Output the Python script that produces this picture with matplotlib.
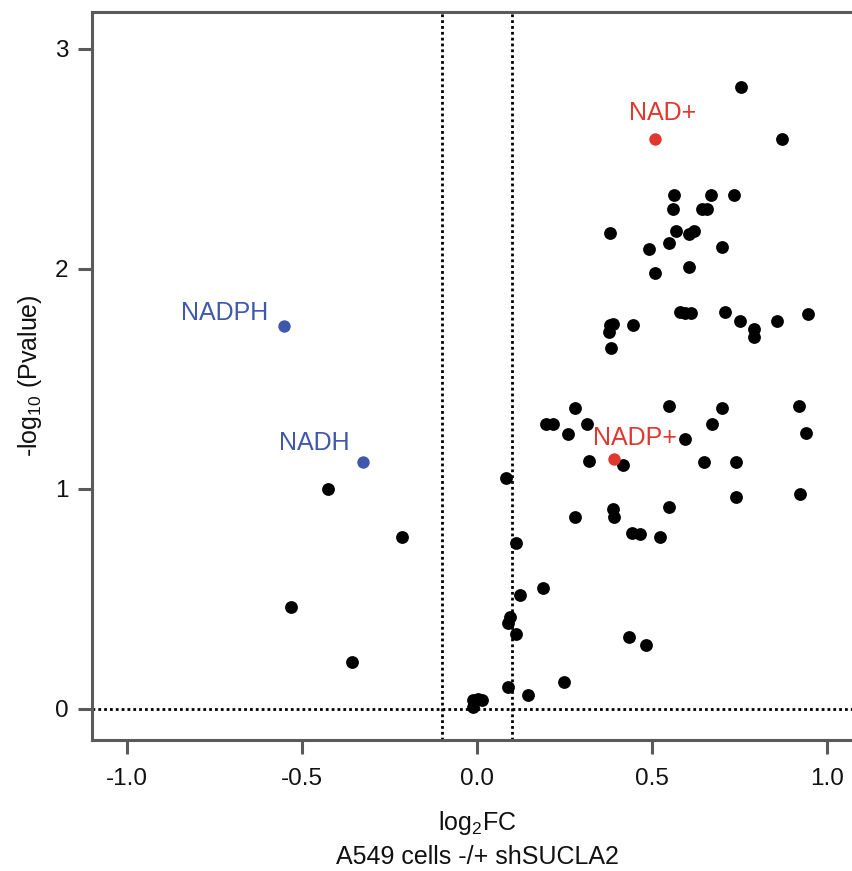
import matplotlib
matplotlib.use("Agg")
import matplotlib.pyplot as plt

plt.rcParams["font.family"] = ["Liberation Sans", "DejaVu Sans"]
plt.rcParams["mathtext.fontset"] = "custom"
plt.rcParams["mathtext.rm"] = "Liberation Sans"
plt.rcParams["axes.unicode_minus"] = False

# ── Data (log2FC, -log10 P) ───────────────────────────────────────────────────
other_fc = [0.754, 0.871, 0.563, 0.669, 0.734, 0.560, 0.643, 0.657, 0.380, 0.569,
            0.606, 0.620, 0.549, 0.491, 0.700, 0.606, 0.509, 0.580, 0.594, 0.611,
            0.709, 0.751, 0.791, 0.791, 0.857, 0.946, 0.380, 0.389, 0.377, 0.446,
            0.383, 0.280, 0.549, 0.197, 0.217, 0.314, 0.260, 0.320, 0.417, 0.083,
            0.280, 0.389, 0.391, 0.443, 0.466, 0.523, 0.700, 0.671, 0.594, 0.649,
            0.740, 0.920, 0.940, 0.740, 0.923, 0.549, 0.189, 0.123, 0.094, 0.089,
            0.111, 0.249, 0.089, 0.146, -0.011, 0.003, 0.014, -0.011, 0.434, 0.483,
            -0.426, -0.214, -0.531, -0.357, 0.111]
other_p = [2.827, 2.591, 2.336, 2.336, 2.336, 2.273, 2.273, 2.273, 2.164, 2.173,
           2.159, 2.173, 2.118, 2.091, 2.100, 2.009, 1.982, 1.805, 1.800, 1.800,
           1.805, 1.764, 1.727, 1.691, 1.764, 1.795, 1.745, 1.750, 1.714, 1.745,
           1.641, 1.368, 1.377, 1.295, 1.295, 1.295, 1.250, 1.127, 1.109, 1.050,
           0.873, 0.909, 0.873, 0.800, 0.795, 0.782, 1.368, 1.295, 1.227, 1.123,
           1.123, 1.377, 1.255, 0.964, 0.977, 0.918, 0.550, 0.518, 0.418, 0.391,
           0.341, 0.123, 0.100, 0.064, 0.041, 0.045, 0.041, 0.009, 0.327, 0.291,
           1.000, 0.782, 0.464, 0.214, 0.755]

up_names = ["NAD+", "NADP+"]
up_fc    = [0.509, 0.391]
up_p     = [2.591, 1.136]

down_names = ["NADPH", "NADH"]
down_fc    = [-0.551, -0.326]
down_p     = [1.741, 1.123]

FC_CUT = 0.1
RED, BLUE = "#e0382f", "#3f58ab"

fig = plt.figure(figsize=(8.53, 8.71), dpi=100)
ax = fig.add_axes([92 / 853, 1 - 740 / 871, 770 / 853, 728 / 871])

ax.scatter(other_fc, other_p, s=85, color="black", linewidths=0, zorder=3)
ax.scatter(up_fc, up_p, s=80, color=RED, linewidths=0, zorder=4)
ax.scatter(down_fc, down_p, s=80, color=BLUE, linewidths=0, zorder=4)

# labels
offsets = {"NAD+": (7, 26, "center"), "NADP+": (21, 21, "center"),
           "NADPH": (-16, 13, "right"), "NADH": (-13, 19, "right")}
for names, xs, ys, col in [(up_names, up_fc, up_p, RED), (down_names, down_fc, down_p, BLUE)]:
    for n, x, y in zip(names, xs, ys):
        dx, dy, ha = offsets[n]
        ax.annotate(n, (x, y), xytext=(dx, dy), textcoords="offset pixels",
                    ha=ha, va="center", fontsize=18, color=col, zorder=5)

dots = (0, (1, 1.1))
ax.axhline(0, color="black", lw=2, ls=dots, zorder=2)
ax.axvline(-FC_CUT, color="black", lw=2, ls=dots, zorder=2)
ax.axvline(FC_CUT, color="black", lw=2, ls=dots, zorder=2)

ax.set_xlim(-1.1, 1.1)
ax.set_ylim(-0.141, 3.168)
ax.set_xticks([-1.0, -0.5, 0.0, 0.5, 1.0])
ax.set_xticklabels(["-1.0", "-0.5", "0.0", "0.5", "1.0"])
ax.set_yticks([0, 1, 2, 3])

for side in ["left", "top", "bottom"]:
    ax.spines[side].set_color("#5a5a5a")
    ax.spines[side].set_linewidth(2.2)
ax.spines["right"].set_visible(False)
ax.tick_params(length=10, width=2.2, color="#5a5a5a", labelsize=17.5,
               labelcolor="#111111")
ax.tick_params(axis="x", pad=10)
ax.tick_params(axis="y", pad=7)

ax.set_xlabel(r"log$_\mathrm{2}$FC", fontsize=18, color="#111111", labelpad=14)
ax.set_ylabel(r"-log$_\mathrm{10}$ (Pvalue)", fontsize=18, color="#111111", labelpad=8)
fig.text(477 / 853, 1 - 857 / 871, "A549 cells -/+ shSUCLA2", ha="center", va="center",
         fontsize=18, color="#111111")

fig.savefig("out.png", dpi=100)
